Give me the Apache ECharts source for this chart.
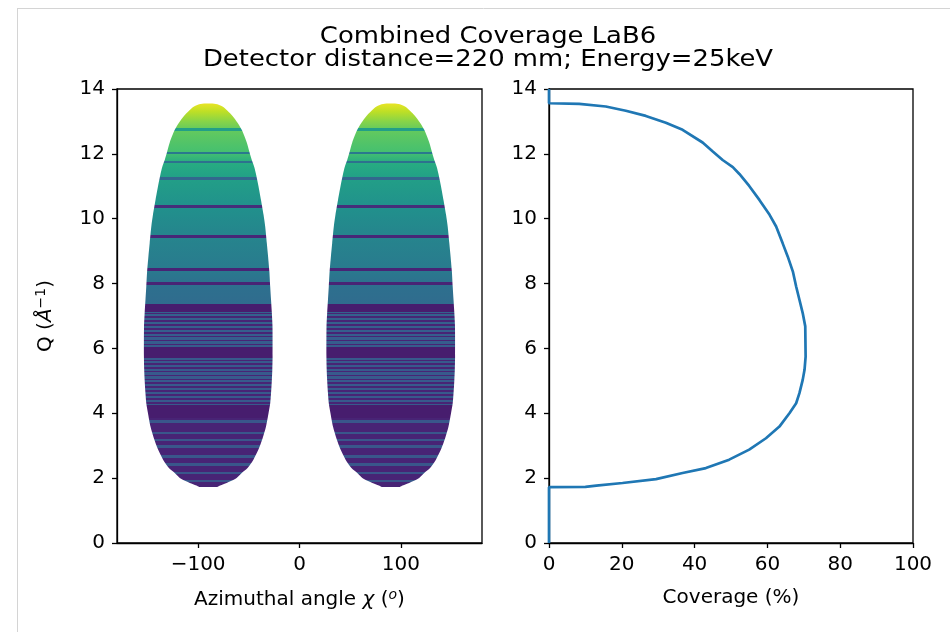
<!DOCTYPE html>
<html><head><meta charset="utf-8">
<script src="https://cdn.jsdelivr.net/npm/echarts@6/dist/echarts.min.js"></script>
<style>html,body{margin:0;padding:0;background:#fff}#c{width:950px;height:632px}</style>
</head><body><div id="c"></div>
<script>
// ---- data ----
const qValues = [0, 1.72, 1.73, 1.77, 1.85, 1.97, 2.16, 2.31, 2.57, 2.88, 3.23, 3.59, 4.01, 4.31, 4.62, 5.03, 5.34, 5.75, 6.68, 7.09, 7.50, 7.91, 8.37, 8.83, 9.24, 9.76, 10.12, 10.58, 11.01, 11.38, 11.59, 11.81, 12.07, 12.35, 12.74, 12.96, 13.17, 13.33, 13.46, 13.54, 13.56, 14];
const coverageValues = [0, 0, 10.0, 13.0, 20.2, 29.4, 36.7, 43.1, 49.5, 55.0, 59.6, 63.3, 66.1, 67.9, 68.8, 69.7, 70.2, 70.5, 70.4, 69.7, 68.8, 67.9, 67.0, 65.6, 64.2, 62.4, 60.6, 57.8, 55.0, 52.3, 50.5, 47.7, 45.0, 42.2, 36.7, 32.1, 26.6, 21.1, 15.6, 8.3, 0, 0];
const lobeCenters = [-90, 90];
// base colour level (0..1 of the colormap) along Q
const baseQ = [1.72, 3.85, 4.25, 5.72, 6.05, 7.13, 7.38, 8.0, 8.45, 9.45, 10.38, 11.24, 11.75, 12.03, 12.76, 13.0, 13.3, 13.56];
const baseLevel = [0.10, 0.10, 0.28, 0.28, 0.29, 0.31, 0.35, 0.37, 0.41, 0.45, 0.50, 0.56, 0.62, 0.70, 0.76, 0.82, 0.90, 0.97];
// darker stripes: [qLow, qHigh, level]
const stripeLow  = [12.72, 11.99, 11.71, 11.19, 10.33, 9.41, 8.39, 7.97, 7.13, 6.10, 6.22, 6.34, 6.46, 6.58, 6.70, 6.82, 6.94, 7.05, 5.72, 4.30, 4.42, 4.54, 4.66, 4.78, 4.90, 5.02, 5.14, 5.26, 5.38, 5.50, 5.60, 3.85];
const stripeHigh = [12.80, 12.07, 11.79, 11.28, 10.42, 9.50, 8.48, 8.06, 7.38, 6.15, 6.27, 6.39, 6.51, 6.63, 6.75, 6.87, 6.99, 7.10, 6.05, 4.35, 4.47, 4.59, 4.71, 4.83, 4.95, 5.07, 5.19, 5.31, 5.43, 5.55, 5.65, 4.25];
const stripeLevel= [0.56, 0.40, 0.37, 0.33, 0.13, 0.11, 0.10, 0.10, 0.08, 0.10, 0.10, 0.10, 0.10, 0.10, 0.10, 0.10, 0.10, 0.10, 0.08, 0.10, 0.10, 0.10, 0.10, 0.10, 0.10, 0.10, 0.10, 0.10, 0.10, 0.10, 0.10, 0.08];
// lighter stripes in the low-Q region
const lightLow  = [1.88, 2.12, 2.38, 2.63, 2.94, 3.14, 3.35, 3.71];
const lightHigh = [1.95, 2.20, 2.46, 2.71, 3.02, 3.22, 3.43, 3.79];
const chiTicks = [-100, 0, 100];
const qTicks = [0, 2, 4, 6, 8, 10, 12, 14];
const coverageTicks = [0, 20, 40, 60, 80, 100];

// ---- helpers ----
const viridis = ['#440154','#482475','#414487','#355f8d','#2a788e','#21918c','#22a884','#44bf70','#7ad151','#bddf26','#fde725'];
function hex2rgb(h){return [parseInt(h.slice(1,3),16),parseInt(h.slice(3,5),16),parseInt(h.slice(5,7),16)];}
function vcol(t){
  t=Math.max(0,Math.min(1,t));const p=t*10;const i=Math.min(9,Math.floor(p));const f=p-i;
  const a=hex2rgb(viridis[i]),b=hex2rgb(viridis[i+1]);
  return 'rgb('+a.map((v,k)=>Math.round(v+(b[k]-v)*f)).join(',')+')';
}
function baseAt(q){
  if(q<=baseQ[0])return baseLevel[0];
  for(let i=1;i<baseQ.length;i++){if(q<=baseQ[i]){const f=(q-baseQ[i-1])/(baseQ[i]-baseQ[i-1]);return baseLevel[i-1]+(baseLevel[i]-baseLevel[i-1])*f;}}
  return baseLevel[baseLevel.length-1];
}
function stripeAt(q){
  for(let i=0;i<stripeLow.length;i++){if(q>=stripeLow[i]&&q<=stripeHigh[i])return stripeLevel[i];}
  for(let i=0;i<lightLow.length;i++){if(q>=lightLow[i]&&q<=lightHigh[i])return 0.27;}
  return null;
}
const lobeQ=[],lobeHalf=[];
qValues.forEach((q,i)=>{if(coverageValues[i]>0){lobeQ.push(q);lobeHalf.push(coverageValues[i]/100*360/4);}});
const qBot=lobeQ[0],qTop=lobeQ[lobeQ.length-1];
function buildStops(){
  let br=[qBot,qTop].concat(baseQ,stripeLow,stripeHigh,lightLow,lightHigh).filter(q=>q>=qBot&&q<=qTop);
  br=Array.from(new Set(br)).sort((a,b)=>b-a);
  const stops=[];
  for(let i=0;i<br.length-1;i++){
    const a=br[i],b=br[i+1],m=(a+b)/2;const s=stripeAt(m);
    const ca=s==null?baseAt(a):s,cb=s==null?baseAt(b):s;
    stops.push({offset:(qTop-a)/(qTop-qBot),color:vcol(ca)});
    stops.push({offset:(qTop-b)/(qTop-qBot),color:vcol(cb)});
  }
  return stops;
}
const colorStops=buildStops();

const FONT='DejaVu Sans';
const FS=20;
const chart=echarts.init(document.getElementById('c'),null,{renderer:'canvas'});
const axisCommon={
  axisLine:{show:true,onZero:false,lineStyle:{color:'#000',width:1.3}},
  axisTick:{show:true,length:5,lineStyle:{color:'#000',width:1.3}},
  splitLine:{show:false},
  nameTextStyle:{fontFamily:FONT,fontSize:FS,color:'#000'}
};
const labelStyle={fontFamily:FONT,fontSize:FS,color:'#000'};
chart.setOption({
  animation:false,
  graphic:[
    {type:'line',shape:{x1:17.5,y1:8,x2:17.5,y2:632},style:{stroke:'#d4d4d4',lineWidth:1}},
    {type:'line',shape:{x1:17,y1:8.5,x2:950,y2:8.5},style:{stroke:'#d4d4d4',lineWidth:1}},
    {type:'text',x:488,y:37,scaleX:1.15,style:{text:'Combined Coverage LaB6',font:'22.5px "DejaVu Sans"',fill:'#000',textAlign:'center',textVerticalAlign:'middle'}},
    {type:'text',x:488,y:60,scaleX:1.15,style:{text:'Detector distance=220 mm; Energy=25keV',font:'22.5px "DejaVu Sans"',fill:'#000',textAlign:'center',textVerticalAlign:'middle'}}
  ],
  grid:[
    {left:117,top:89,width:365,height:454,show:true,borderColor:'#000',borderWidth:1.3,backgroundColor:'transparent'},
    {left:549,top:89,width:364,height:454,show:true,borderColor:'#000',borderWidth:1.3,backgroundColor:'transparent'}
  ],
  xAxis:[
    Object.assign({},axisCommon,{type:'value',gridIndex:0,min:-180,max:180,
      axisTick:Object.assign({},axisCommon.axisTick,{customValues:chiTicks}),
      axisLabel:Object.assign({},labelStyle,{customValues:chiTicks,margin:12,formatter:v=>v<0?'\u2212'+Math.abs(v):String(v)}),
      name:'Azimuthal angle {i|χ} ({s|o})',nameLocation:'middle',nameGap:45,
      nameTextStyle:{fontFamily:FONT,fontSize:FS,color:'#000',rich:{i:{fontFamily:FONT,fontStyle:'italic',fontSize:FS},s:{fontFamily:FONT,fontStyle:'italic',fontSize:14,verticalAlign:'top',padding:[0,0,9,0]}}}}),
    Object.assign({},axisCommon,{type:'value',gridIndex:1,min:0,max:100,interval:20,
      axisTick:Object.assign({},axisCommon.axisTick,{customValues:coverageTicks}),
      axisLabel:Object.assign({},labelStyle,{customValues:coverageTicks,margin:12}),
      name:'Coverage (%)',nameLocation:'middle',nameGap:45})
  ],
  yAxis:[
    Object.assign({},axisCommon,{type:'value',gridIndex:0,min:0,max:14,interval:2,
      axisTick:Object.assign({},axisCommon.axisTick,{customValues:qTicks}),
      axisLabel:Object.assign({},labelStyle,{customValues:qTicks,margin:12}),
      name:'Q ({i|Å}{s|−1})',nameLocation:'middle',nameGap:60,nameRotate:90,
      nameTextStyle:{fontFamily:FONT,fontSize:FS,color:'#000',rich:{i:{fontFamily:FONT,fontStyle:'italic',fontSize:FS},s:{fontFamily:FONT,fontSize:14,verticalAlign:'top',padding:[0,0,9,0]}}}}),
    Object.assign({},axisCommon,{type:'value',gridIndex:1,min:0,max:14,interval:2,
      axisTick:Object.assign({},axisCommon.axisTick,{customValues:qTicks}),
      axisLabel:Object.assign({},labelStyle,{customValues:qTicks,margin:12})})
  ],
  series:[
    {type:'custom',xAxisIndex:0,yAxisIndex:0,data:lobeCenters.map(c=>[c,qBot]),clip:true,
      renderItem:function(params,api){
        const c=api.value(0);const pts=[];
        for(let i=0;i<lobeQ.length;i++)pts.push(api.coord([c+lobeHalf[i],lobeQ[i]]));
        for(let i=lobeQ.length-1;i>=0;i--)pts.push(api.coord([c-lobeHalf[i],lobeQ[i]]));
        const yT=api.coord([c,qTop])[1],yB=api.coord([c,qBot])[1];
        return {type:'polygon',shape:{points:pts,smooth:0.25},style:{fill:{type:'linear',x:0,y:yT,x2:0,y2:yB,global:true,colorStops:colorStops},stroke:null}};
      }},
    {type:'line',xAxisIndex:1,yAxisIndex:1,data:qValues.map((q,i)=>[coverageValues[i],q]),showSymbol:false,symbol:'none',
      lineStyle:{color:'#1f77b4',width:2.7},clip:false}
  ]
});
</script></body></html>
